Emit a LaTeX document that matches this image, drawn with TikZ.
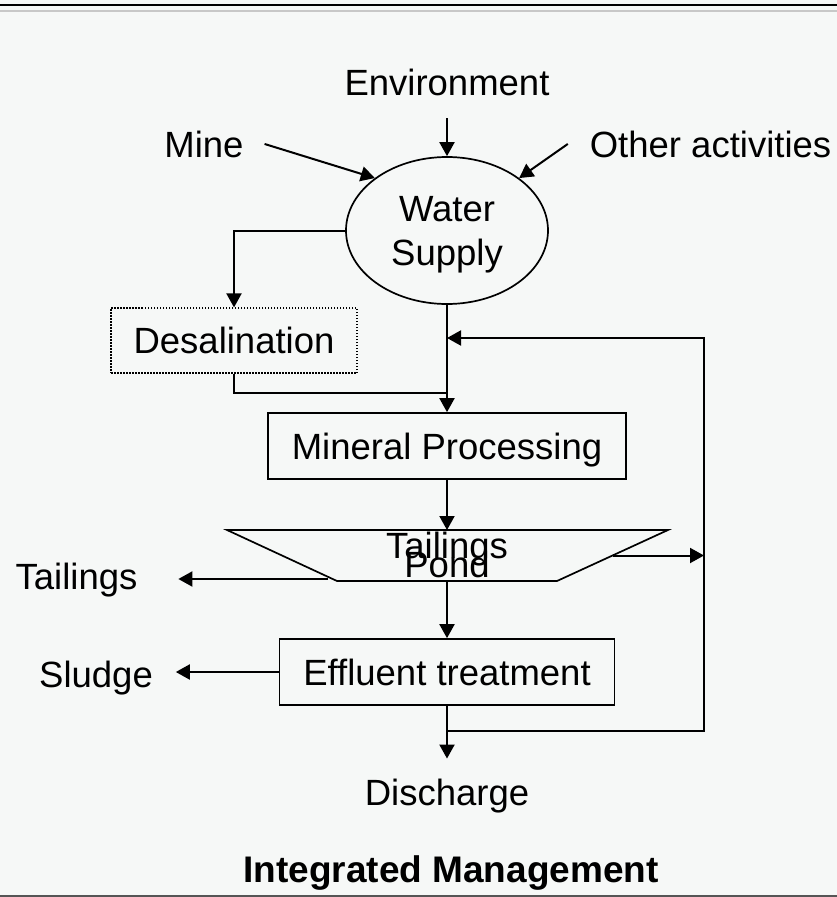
\documentclass[tikz,border=0pt]{standalone}
\usepackage{fontspec}
\setmainfont{Liberation Sans}
\usepackage{xcolor}
\usetikzlibrary{arrows.meta, shapes.geometric}

\definecolor{slidebg}{RGB}{246,248,247}
\definecolor{rulegrey}{RGB}{200,200,200}
\definecolor{footgrey}{RGB}{85,85,85}

\begin{document}
\begin{tikzpicture}[x=1pt, y=-1pt, >={Triangle[length=14pt, width=15pt]}, line width=2pt,
  every node/.style={font=\fontsize{36.5}{44}\selectfont},
  lbl/.style={inner sep=0pt},
  box/.style={draw, rectangle, inner sep=0pt, text depth=0pt, line width=1.7pt},
  arr/.style={->}]
  % ── Slide background and rules ────────────────────────────────
  \fill[slidebg] (0,0) rectangle (837,897);
  \useasboundingbox (0,0) rectangle (837,897);
  \draw (0,5) -- (837,5);
  \draw[rulegrey] (0,10.5) -- (837,10.5);
  \draw[footgrey] (0,896) -- (837,896);
  % ── Water supply and its sources ──────────────────────────────
  \node[ellipse, draw, line width=1.7pt, minimum width=202pt, minimum height=147pt,
        inner sep=0pt, text depth=0pt, align=center] (supply) at (447,230.5) {Water\\Supply};
  \node[lbl, anchor=base] (env)   at (447,95)    {Environment};
  \node[lbl, anchor=base] (mine)  at (204,157)   {Mine};
  \node[lbl, anchor=base] (other) at (710.5,157) {Other activities};
  % ── Process boxes ─────────────────────────────────────────────
  \node[box, dotted, line width=1.2pt, dash pattern=on 1.5pt off 1.5pt,
        minimum width=246pt, minimum height=65pt] (desal) at (234,340.5) {Desalination};
  \node[box, minimum width=358pt, minimum height=66pt] (mineral) at (447,446) {Mineral Processing};
  % tailings pond (trapezoid, wide side up)
  \coordinate (pondtl) at (227,530);
  \coordinate (pondtr) at (668,530);
  \coordinate (pondbr) at (557,581);
  \coordinate (pondbl) at (337,581);
  \coordinate (pondr)  at (612.5,555.5);
  \coordinate (pondl)  at (328,579);
  \draw[line width=1.7pt] (pondtl) -- (pondtr) -- (pondbr) -- (pondbl) -- cycle;
  \node[lbl, align=center, font={\fontsize{36.5}{19}\selectfont\lineskiplimit=-100pt}]
        (pond) at (447,555) {Tailings\\Pond};
  \node[box, minimum width=335pt, minimum height=66pt] (effluent) at (447,672) {Effluent treatment};
  % ── Outputs ───────────────────────────────────────────────────
  \node[lbl, anchor=base] (tailings)  at (76.5,589) {Tailings};
  \node[lbl, anchor=base] (sludge)    at (96,687)   {Sludge};
  \node[lbl, anchor=base] (discharge) at (447,805)  {Discharge};
  \node[lbl, anchor=base, font=\fontsize{37}{44}\selectfont\bfseries] (title) at (451,882) {Integrated Management};
  % ── Corner points of the pipes ────────────────────────────────
  \coordinate (join)    at (447,393);
  \coordinate (looptop) at (704,338);
  \coordinate (loopbot) at (704,731);
  % ── Inflows ───────────────────────────────────────────────────
  \draw[arr, shorten <=22pt] (env.south) -- (supply.north);
  \draw[arr] ([xshift=20pt]mine.east) -- (supply.144);
  \draw[arr] ([xshift=-21pt]other.west) -- (supply.36);
  % ── Main line ─────────────────────────────────────────────────
  \draw[arr] (supply.west) -| (desal.north);
  \draw (desal.south) |- (join);
  \draw[arr] (supply.south) -- (mineral.north);
  \draw[arr] (mineral.south) -- (mineral.south |- pondtl);
  \draw[arr] (effluent.north |- pondbl) -- (effluent.north);
  \draw[arr, shorten >=19pt] (effluent.south) -- (discharge.north);
  % ── Side outputs and recycle loop ─────────────────────────────
  \draw[arr, shorten >=40pt] (pondl) -- (pondl -| tailings.east);
  \draw[arr, shorten >=22pt] (effluent.west) -- (effluent.west -| sludge.east);
  \draw[arr] (pondr) -- (pondr -| looptop);
  \draw[arr] (effluent.south |- loopbot) -- (loopbot) -- (looptop) -- (supply.south |- looptop);
\end{tikzpicture}
\end{document}
